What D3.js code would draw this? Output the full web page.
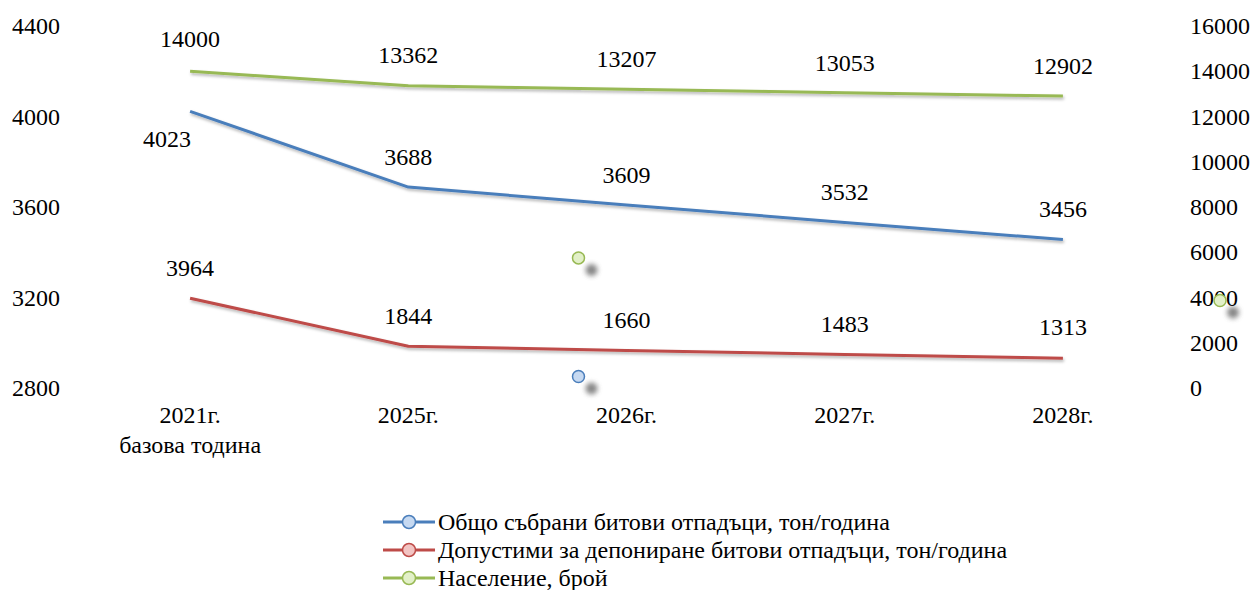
<!DOCTYPE html>
<html>
<head>
<meta charset="utf-8">
<script src="https://cdn.jsdelivr.net/npm/d3@7"></script>
<style>
  body { margin: 0; background: #fff; }
  text { font-family: "Liberation Serif", "Times New Roman", serif; fill: #000; }
</style>
</head>
<body>
<div id="chart"></div>
<script>
// data
var years = ["2021г.", "2025г.", "2026г.", "2027г.", "2028г."];
var collected = [4023, 3688, 3609, 3532, 3456];      // left axis
var landfill = [3964, 1844, 1660, 1483, 1313];       // right axis
var population = [14000, 13362, 13207, 13053, 12902]; // right axis
var leftTicks = [2800, 3200, 3600, 4000, 4400];
var rightTicks = [0, 2000, 4000, 6000, 8000, 10000, 12000, 14000, 16000];
var seriesNames = [
  "Общо събрани битови отпадъци, тон/година",
  "Допустими за депониране битови отпадъци, тон/година",
  "Население, брой"
];
// stray markers left in the original picture (axis units)
var strayMarkers = [
  {series: 2, year: "2026г.", shift: -0.22, axis: "right", value: 5750},
  {series: 0, year: "2026г.", shift: -0.22, axis: "left", value: 2851},
  {series: 2, year: "2028г.", shift: 0.72, axis: "right", value: 3870}
];

var colors = ["#4a7ebb", "#be4b48", "#98b954"];
var fills = ["#c6d9f1", "#f2c4c3", "#e2f0c8"];

var width = 1255, height = 590;
var mLeft = 81, mRight = 1172, mTop = 26, mBottom = 388;
var fs = "24px";

var svg = d3.select("#chart").append("svg")
  .attr("width", width)
  .attr("height", height);

var defs = svg.append("defs");
var f = defs.append("filter").attr("id", "shadow")
  .attr("x", "-20%").attr("y", "-20%").attr("width", "140%").attr("height", "160%");
f.append("feDropShadow").attr("dx", 1).attr("dy", 2).attr("stdDeviation", 1.5)
  .attr("flood-color", "#000").attr("flood-opacity", 0.3);
var f2 = defs.append("filter").attr("id", "blob")
  .attr("x", "-100%").attr("y", "-100%").attr("width", "300%").attr("height", "300%");
f2.append("feGaussianBlur").attr("stdDeviation", 2.5);

var x = d3.scaleBand().domain(years).range([mLeft, mRight]);
var yL = d3.scaleLinear().domain([2800, 4400]).range([mBottom, mTop]);
var yR = d3.scaleLinear().domain([0, 16000]).range([mBottom, mTop]);
var cx = function(d, i) { return x(years[i]) + x.bandwidth() / 2; };

// grid
svg.append("g")
  .selectAll("line")
  .data(leftTicks)
  .join("line")
  .attr("x1", mLeft).attr("x2", mRight)
  .attr("y1", function(d) { return yL(d); })
  .attr("y2", function(d) { return yL(d); })
  .attr("stroke", "#d9d9d9")
  .attr("stroke-width", 1.5)
  .attr("filter", "url(#shadow)");

// left axis
var axL = svg.append("g")
  .attr("transform", "translate(" + mLeft + ",0)")
  .call(d3.axisLeft(yL).tickValues(leftTicks).tickFormat(d3.format("d")).tickSize(0).tickPadding(21));
axL.select(".domain").remove();
axL.selectAll("text").style("font-size", fs).attr("font-family", null);

// right axis
var axR = svg.append("g")
  .attr("transform", "translate(" + mRight + ",0)")
  .call(d3.axisRight(yR).tickValues(rightTicks).tickFormat(d3.format("d")).tickSize(0).tickPadding(18));
axR.select(".domain").remove();
axR.selectAll("text").style("font-size", fs).attr("font-family", null);

// x axis labels
var axX = svg.append("g")
  .attr("transform", "translate(0," + mBottom + ")")
  .call(d3.axisBottom(x).tickSize(0).tickPadding(18));
axX.select(".domain").remove();
axX.selectAll("text").style("font-size", fs).attr("font-family", null);
svg.append("text")
  .attr("x", x(years[0]) + x.bandwidth() / 2)
  .attr("y", 453)
  .attr("text-anchor", "middle")
  .style("font-size", fs)
  .text("базова тодина");

// lines
var series = [
  {values: collected, y: yL, label: [ [-23, 36], [0, -22], [0, -22], [0, -22], [0, -23] ]},
  {values: landfill, y: yR, label: [ [0, -22], [0, -22], [0, -22], [0, -22], [0, -23] ]},
  {values: population, y: yR, label: [ [0, -24], [0, -23], [0, -22], [0, -22], [0, -22] ]}
];

series.forEach(function(s, k) {
  var line = d3.line()
    .x(function(d, i) { return cx(d, i); })
    .y(function(d) { return s.y(d); });
  svg.append("path")
    .datum(s.values)
    .attr("fill", "none")
    .attr("stroke", colors[k])
    .attr("stroke-width", 3)
    .attr("stroke-linejoin", "round")
    .attr("filter", "url(#shadow)")
    .attr("d", line);
});

series.forEach(function(s, k) {
  svg.append("g")
    .selectAll("text")
    .data(s.values)
    .join("text")
    .attr("x", function(d, i) { return cx(d, i) + s.label[i][0]; })
    .attr("y", function(d, i) { return s.y(d) + s.label[i][1]; })
    .attr("text-anchor", "middle")
    .style("font-size", fs)
    .text(function(d) { return d; });
});

// stray markers
var stray = svg.append("g");
strayMarkers.forEach(function(m) {
  var px = x(m.year) + x.bandwidth() / 2 + m.shift * x.bandwidth();
  var py = (m.axis == "left" ? yL : yR)(m.value);
  stray.append("circle")
    .attr("cx", px + 13).attr("cy", py + 12).attr("r", 6)
    .attr("fill", "#555").attr("opacity", 0.7)
    .attr("filter", "url(#blob)");
  stray.append("circle")
    .attr("cx", px).attr("cy", py).attr("r", 6)
    .attr("fill", fills[m.series])
    .attr("stroke", colors[m.series])
    .attr("stroke-width", 1.5);
});

// legend
var legend = svg.append("g").attr("transform", "translate(383,522)");
var rows = legend.selectAll("g")
  .data(seriesNames)
  .join("g")
  .attr("transform", function(d, i) { return "translate(0," + (i * 28) + ")"; });
rows.append("line")
  .attr("x1", 0).attr("x2", 52)
  .attr("stroke", function(d, i) { return colors[i]; })
  .attr("stroke-width", 3);
rows.append("circle")
  .attr("cx", 26).attr("r", 6.5)
  .attr("fill", function(d, i) { return fills[i]; })
  .attr("stroke", function(d, i) { return colors[i]; })
  .attr("stroke-width", 1.5);
rows.append("text")
  .attr("x", 55).attr("y", 8)
  .style("font-size", fs)
  .text(function(d) { return d; });
</script>
</body>
</html>
